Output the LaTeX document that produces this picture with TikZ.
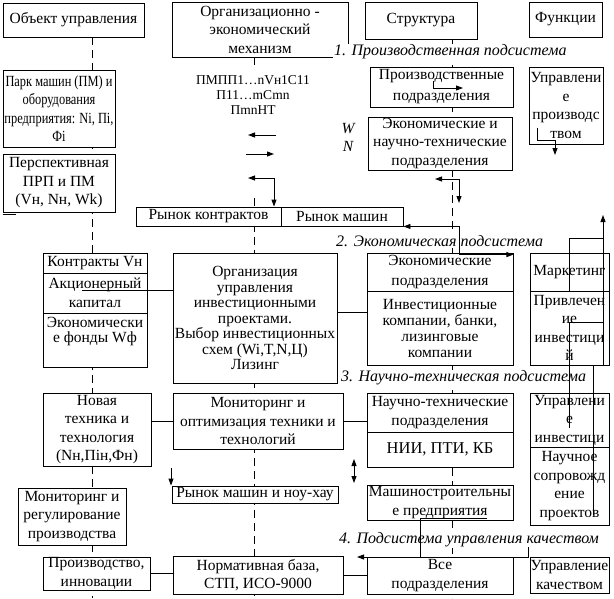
\documentclass[tikz,border=0pt]{standalone}
\usepackage{fontspec}
\setmainfont{Liberation Serif}
\usetikzlibrary{arrows.meta,calc,positioning}

\tikzset{
	box/.style={draw, fill=white, line width=0.9pt, inner sep=0pt, align=center, font=\fontsize{15.5}{18.5}\selectfont},
	cell/.style 2 args={minimum width=#1pt, minimum height=#2pt},
	tight/.style={font=\fontsize{15.5}{#1}\selectfont},
	subsys/.style={font=\itshape\fontsize{16}{16}\selectfont, fill=white, inner sep=1pt, anchor=west},
	guide/.style={line width=0.9pt, dash pattern=on 8pt off 5pt},
	con/.style={line width=0.9pt},
	arr/.style={-{Triangle[length=7pt,width=5pt]}},
	arrs/.style={{Triangle[length=7pt,width=5pt]}-{Triangle[length=7pt,width=5pt]}},
}

\begin{document}
\begin{tikzpicture}[x=1pt,y=-1pt]
		\useasboundingbox (0,0) rectangle (614,598);
		\draw[guide] (92,37) -- (92,598);
		\draw[guide] (254,57) -- (254,68);
		\draw[guide] (254,198) -- (254,598);
		\draw[guide] (452,39) -- (452,598);

		\node[box, cell={141}{34}] (obj) at (73.5,20) {Объект управления};
		\node[box, cell={176}{55}] (mech) at (260,29.5) {Организационно -\\экономический\\механизм};
		\node[box, cell={112}{37}] (struct) at (421,20.5) {Структура};
		\node[box, cell={73}{35}] (func) at (565.5,19.5) {Функции};
		\node[box, cell={112}{77}, font=\fontsize{15.5}{18.5}\selectfont\addfontfeature{FakeStretch=0.8}] (park) at (59,108.5) {Парк машин (ПМ) и\\оборудования\\предприятия: Ni, Пi,\\Фi};
		\node[box, cell={143}{40}, tight=21] (prod) at (441.5,87) {Производственные\\подразделения};
		\node[box, cell={144}{53}] (entech) at (440,143.5) {Экономические и\\научно-технические\\подразделения};
		\node[box, cell={74}{77}] (mgprod) at (566,105.5) {Управлени\\е\\производс\\твом};
		\node[box, cell={112}{58}] (persp) at (59,183) {Перспективная\\ПРП и ПМ\\(Vн, Nн, Wk)};
		\node[box, cell={145}{19}] (mcontr) at (208.5,216.5) {Рынок контрактов};
		\node[box, cell={122}{19}] (mmach) at (342,216.5) {Рынок машин};
		\node[box, cell={104}{20}] (contr) at (95,263) {Контракты Vн};
		\node[box, cell={104}{40}] (stock) at (95,293) {Акционерный\\капитал};
		\node[box, cell={104}{54}] (funds) at (95,340) {};
		\node[below=4pt of funds.north, align=center, inner sep=0pt, tight=15] (fundstext) {Экономически\\е фонды Wф};
		\node[box, cell={164}{130}, tight=15.5] (invorg) at (255,318) {Организация\\управления\\инвестиционными\\проектами.\\Выбор инвестиционных\\схем (Wi,T,N,Ц)\\Лизинг};
		\node[box, cell={146}{38}, tight=20] (econ) at (440,272) {Экономические\\подразделения};
		\node[box, cell={146}{74}, tight=16] (invco) at (440,328) {Инвестиционные\\компании, банки,\\лизинговые\\компании};
		\node[box, cell={79}{38}] (market) at (569.5,272) {Маркетинг};
		\node[box, cell={79}{74}] (attract) at (569.5,328) {Привлечен\\ие\\инвестици\\й};
		\node[box, cell={108}{73}] (newtech) at (97,429.5) {Новая\\техника и\\технология\\(Nн,Пiн,Фн)};
		\node[box, cell={170}{56}] (monit) at (258,421) {Мониторинг и\\оптимизация техники и\\технологий};
		\node[box, cell={146}{39}] (sci) at (440,412.5) {Научно-технические\\подразделения};
		\node[box, cell={146}{35}, font=\fontsize{16.5}{18}\selectfont] (nii) at (440,449.5) {НИИ, ПТИ, КБ};
		\node[box, cell={79}{54}] (mginv) at (569.5,420) {Управлени\\е\\инвестици};
		\node[box, cell={79}{78}] (support) at (569.5,486) {Научное\\сопровожд\\ение\\проектов};
		\node[box, cell={166}{17}] (mknow) at (255,494.5) {Рынок машин и ноу-хау};
		\node[box, cell={146}{35}] (build) at (440,502.5) {Машиностроительны\\е предприятия};
		\node[box, cell={108}{57}] (regul) at (72,516.5) {Мониторинг и\\регулирование\\производства};
		\node[box, cell={107}{33}] (innov) at (96.5,573.5) {Производство,\\инновации};
		\node[box, cell={170}{38}] (norms) at (258,575) {Нормативная база,\\СТП, ИСО-9000};
		\node[box, cell={146}{37}] (alldep) at (440,575.5) {Все\\подразделения};
		\node[box, cell={79}{36}] (quality) at (569.5,575) {Управление\\качеством};

		\node[subsys] (sub1) at (333,52) {1. Производственная подсистема};
		\node[subsys] (sub2) at (335,241) {2. Экономическая подсистема};
		\node[subsys] (sub3) at (340,378) {3. Научно-техническая подсистема};
		\node[subsys] (sub4) at (338,540) {4. Подсистема управления качеством};
		\node[inner sep=0pt, font=\itshape\fontsize{15.5}{15.5}\selectfont] (w) at (348,129) {W};
		\node[inner sep=0pt, font=\itshape\fontsize{15.5}{15.5}\selectfont] (n) at (348,146) {N};
		\node[align=center, inner sep=0pt, font=\fontsize{13.5}{15}\selectfont] (formula) at (253,95) {ПМПП1…nVн1С11\\П11…mCmn\\ПmnНТ};

		\coordinate (a1) at (82,290);
		\coordinate (a2) at (0,312);
		\draw[con] (a1) -- (a1 -| invorg.west);
		\draw[con] (invorg.east |- a2) -- (invco.west |- a2);
		\draw[con] (newtech.east |- monit.west) -- (monit.west);
		\draw[con] (monit.east) -- (monit.east -| sci.west);
		\draw[con] (innov.east) -- (innov.east -| norms.west);
		\draw[con] (norms.east) -- (norms.east -| alldep.west);

		\coordinate (ml1) at (276,135);
		\coordinate (ml2) at (248,135);
		\coordinate (mr1) at (246,154);
		\coordinate (mr2) at (274,154);
		\coordinate (mc1) at (248,178);
		\coordinate (mc2) at (274,178);
		\draw[con,arr] (ml1) -- (ml2);
		\draw[con,arr] (mr1) -- (mr2);
		\draw[con,arrs] (mc1) -- (mc2) -- (mc2 |- mcontr.north);

		\coordinate (p1) at (433,81);
		\coordinate (p2) at (463,88);
		\draw[con,arr] (p1) |- (p2);
		\coordinate (e1) at (435,179);
		\coordinate (e2) at (459,203);
		\draw[con,arrs] (e1) -| (e2);
		\draw[con,arrs] (mmach.south east) -- ++(56,0) |- ($(econ.north east)+(0,2)$);
		\coordinate (u1) at (537,128);
		\coordinate (u2) at (555,155);
		\draw[con,arr] (u1) -- ++(0,12) -| (u2);

		\coordinate (r1) at (603,215);
		\coordinate (r2) at (569,238);
		\coordinate (r3) at (603,322);
		\coordinate (r4) at (569,428);
		\coordinate (r5) at (593,515);
		\draw[con,arr] (attract.south -| r1) -- (r1);
		\draw[con] (market.south -| r2) -- (r2) -- (r2 -| r1);
		\draw[con] ($(market.north -| r2)+(0,1)$) -- ($(market.north -| r1)+(0,1)$);
		\draw[con] (r3) -| (r4);
		\draw[con] (attract.south -| r5) -- (r5);

		\coordinate (t1) at (171,468);
		\coordinate (t2) at (354,459);
		\coordinate (t3) at (354,483);
		\draw[con,arr] (t1) -- (t1 |- mknow.north);
		\draw[con,arrs] (t2) -- (t3);

		\coordinate (q1) at (487,518);
		\coordinate (q2) at (420,557);
		\coordinate (q3) at (528,547);
		\coordinate (q4) at (357,557);
		\draw[con] (q1) -| (q2);
		\draw[con,arr] (q3) |- (q4);
		\draw[con] ($(persp.south west)+(0,1.5)$) -- ++(13,0);
\end{tikzpicture}
\end{document}
